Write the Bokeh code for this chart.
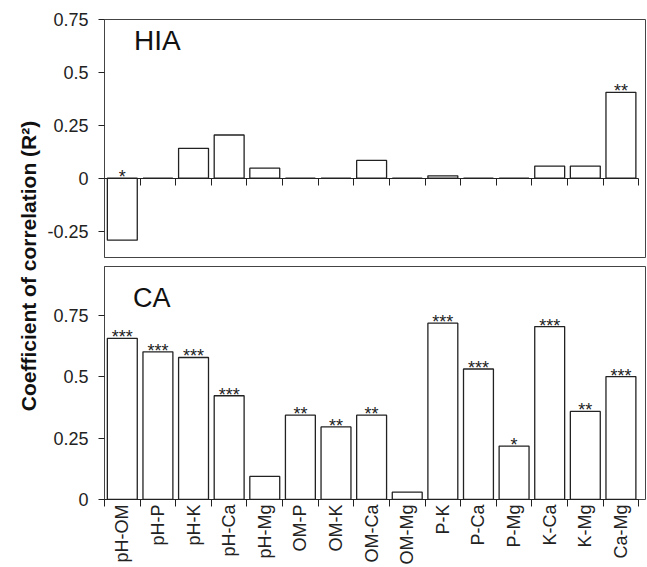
import math
from bokeh.plotting import figure
from bokeh.layouts import row, column
from bokeh.models import FixedTicker, Label
from bokeh.embed import file_html
from bokeh.resources import INLINE
from bokeh.core.properties import value

# ---------------- data ----------------
pairs = ["pH-OM", "pH-P", "pH-K", "pH-Ca", "pH-Mg", "OM-P", "OM-K", "OM-Ca",
         "OM-Mg", "P-K", "P-Ca", "P-Mg", "K-Ca", "K-Mg", "Ca-Mg"]
hia_r2 = [-0.293, 0.0, 0.141, 0.204, 0.047, 0.0, 0.0, 0.084, 0.0, 0.011,
          0.0, 0.0, 0.057, 0.057, 0.406]
hia_sig = ["*", "", "", "", "", "", "", "", "", "", "", "", "", "", "**"]
ca_r2 = [0.657, 0.602, 0.579, 0.423, 0.094, 0.344, 0.296, 0.344, 0.030,
         0.719, 0.532, 0.218, 0.705, 0.359, 0.501]
ca_sig = ["***", "***", "***", "***", "", "**", "**", "**", "", "***", "***",
          "*", "***", "**", "***"]
hia_ticks = [-0.25, 0, 0.25, 0.5, 0.75]
ca_ticks = [0, 0.25, 0.5, 0.75]
y_title = "Coefficient of correlation (R\u00b2)"

FONT = "Liberation Sans"
INK = "#222222"
n = len(pairs)
centers = [i + 0.5 for i in range(n)]
bounds_ticks = list(range(n + 1))
XR = (0, 15.19)


def style_panel(p, ticks):
    p.outline_line_color = "#444444"
    p.outline_line_width = 1
    p.grid.visible = False
    p.background_fill_color = "white"
    p.border_fill_color = "white"
    ya = p.yaxis[0]
    ya.ticker = FixedTicker(ticks=ticks, minor_ticks=[])
    ya.major_label_overrides = {t: f"{t:g}" for t in ticks}
    ya.major_label_text_font = FONT
    ya.major_label_text_font_size = "18px"
    ya.major_label_text_color = INK
    ya.major_tick_out = 6
    ya.major_tick_in = 0
    ya.major_tick_line_color = INK
    ya.axis_line_color = "#444444"
    ya.major_label_standoff = 10
    ya.minor_tick_line_color = None


def bars(p, vals, sig):
    p.vbar(x=centers, top=vals, bottom=0, width=0.84, fill_color="white",
           line_color=INK, line_width=1.3)
    p.text(x=centers, y=[max(v, 0) for v in vals], text=sig,
           text_align="center", text_baseline="alphabetic", y_offset=-1,
           text_font=value(FONT), text_font_size="18px", text_color=INK)


# ---------------- top panel (HIA) ----------------
top = figure(width=603, height=261, x_range=XR, y_range=(-0.375, 0.75),
             output_backend="svg", toolbar_location=None,
             min_border_left=60, min_border_right=2, min_border_top=19,
             min_border_bottom=4)
style_panel(top, hia_ticks)
xa = top.xaxis[0]
xa.fixed_location = 0
xa.bounds = (0, n)
xa.ticker = FixedTicker(ticks=[], minor_ticks=bounds_ticks)
xa.major_tick_out = 0
xa.major_tick_in = 0
xa.minor_tick_out = 7
xa.minor_tick_in = 0
xa.minor_tick_line_color = INK
xa.axis_line_color = INK
bars(top, hia_r2, hia_sig)
top.add_layout(Label(x=0.83, y=0.65, text="HIA", text_font=FONT,
                     text_font_size="28px", text_color="#111111",
                     text_baseline="alphabetic"))

# ---------------- bottom panel (CA) ----------------
bot = figure(width=603, height=306, x_range=XR, y_range=(0, 0.95),
             output_backend="svg", toolbar_location=None,
             min_border_left=60, min_border_right=2, min_border_top=5,
             min_border_bottom=60)
style_panel(bot, ca_ticks)
xb = bot.xaxis[0]
xb.bounds = (0, n)
xb.ticker = FixedTicker(ticks=centers, minor_ticks=bounds_ticks)
xb.major_label_overrides = {c: lab for c, lab in zip(centers, pairs)}
xb.major_label_orientation = math.pi / 2
xb.major_label_text_font = FONT
xb.major_label_text_font_size = "18px"
xb.major_label_text_color = INK
xb.major_label_standoff = -2
xb.major_tick_out = 0
xb.major_tick_in = 0
xb.minor_tick_out = 7
xb.minor_tick_in = 0
xb.minor_tick_line_color = INK
xb.axis_line_color = INK
bars(bot, ca_r2, ca_sig)
bot.add_layout(Label(x=0.80, y=0.82, text="CA", text_font=FONT,
                     text_font_size="27px", text_color="#111111",
                     text_baseline="alphabetic"))

# ---------------- shared y title ----------------
tt = figure(width=44, height=567, x_range=(0, 1), y_range=(0, 1),
            output_backend="svg", toolbar_location=None,
            min_border=0, outline_line_color=None)
tt.axis.visible = False
tt.grid.visible = False
tt.add_layout(Label(x=0.625, y=1 - 265.5 / 567, text=y_title,
                    angle=math.pi / 2,
                    text_align="center", text_baseline="middle",
                    text_font=FONT, text_font_style="bold",
                    text_font_size="21px", text_color="#111111"))

layout = row(tt, column(top, bot, spacing=0), spacing=0)
open("out.html", "w").write(file_html(layout, INLINE))
